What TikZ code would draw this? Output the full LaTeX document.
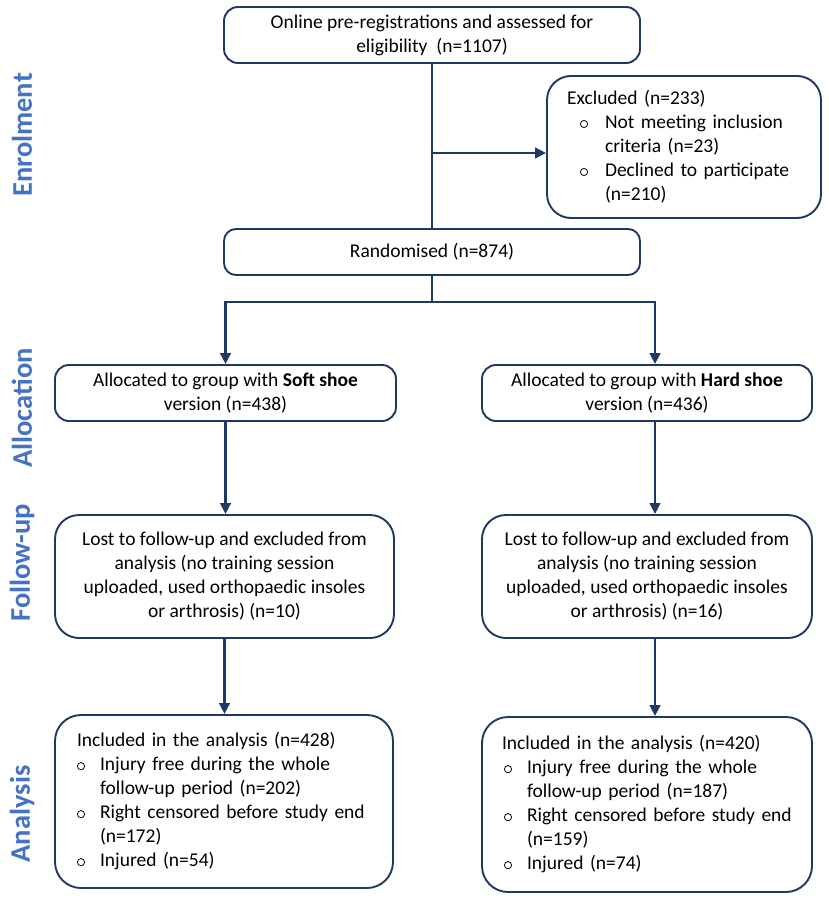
\documentclass[tikz,border=0pt]{standalone}
\usepackage{fontspec}
\setmainfont{Carlito}
\usetikzlibrary{arrows.meta,calc}
\definecolor{navy}{RGB}{32,56,100}
\definecolor{lblue}{RGB}{68,114,196}
\newcommand\obul{\tikz[baseline=-4.8pt]\draw[line width=0.8pt,black] (0,0) circle (3.6pt);}
\begin{document}
\begin{tikzpicture}[x=1pt,y=-1pt,
 box/.style={draw=navy,line width=1.9pt,rounded corners=14pt,fill=white,font=\fontsize{19.5}{24}\selectfont,align=center,inner sep=0pt},
 lbox/.style={box,align=left},
 conn/.style={draw=navy,line width=2.6pt},
 arr/.style={conn,-{Triangle[length=11pt,width=10.5pt]}},
 phase/.style={text=lblue,font=\fontsize{28.5}{30}\selectfont\bfseries,rotate=90}]
\fill[white] (0,0) rectangle (829,899);
\useasboundingbox (0,0) rectangle (829,899);

\node[box,minimum width=416,minimum height=56] (top) at (432,35)
 {Online pre-registrations and assessed for\\eligibility\ \ (n=1107)};
\node[lbox,rounded corners=24pt,text width=234,inner xsep=20,minimum height=142] (excl) at (684,147)
 {Excluded (n=233)\\
 \hspace*{13pt}\makebox[25pt][l]{\obul}Not meeting inclusion\\
 \hspace*{38pt}criteria (n=23)\\
 \hspace*{13pt}\makebox[25pt][l]{\obul}Declined to participate\\
 \hspace*{38pt}(n=210)};
\node[box,rounded corners=12pt,minimum width=416,minimum height=46] (rand) at (432,252) {Randomised (n=874)};

\node[box,minimum width=341,minimum height=56] (soft) at (225.5,393)
 {Allocated to group with \textbf{Soft shoe}\\version (n=438)};
\node[box,minimum width=330,minimum height=56] (hard) at (647,393)
 {Allocated to group with \textbf{Hard shoe}\\version (n=436)};

\node[box,rounded corners=24pt,minimum width=339,minimum height=123] (fol1) at (224.5,576.5)
 {Lost to follow-up and excluded from\\analysis (no training session\\uploaded, used orthopaedic insoles\\or arthrosis) (n=10)};
\node[box,rounded corners=24pt,minimum width=330,minimum height=123] (fol2) at (647,576.5)
 {Lost to follow-up and excluded from\\analysis (no training session\\uploaded, used orthopaedic insoles\\or arthrosis) (n=16)};

\node[lbox,rounded corners=26pt,text width=294,inner xsep=22,minimum height=173] (ana1) at (224,801.5)
 {Included in the analysis (n=428)\\
 \makebox[23pt][l]{\obul}Injury free during the whole\\
 \hspace*{23pt}follow-up period (n=202)\\
 \makebox[23pt][l]{\obul}Right censored before study end\\
 \hspace*{23pt}(n=172)\\
 \makebox[23pt][l]{\obul}Injured (n=54)};
\node[lbox,rounded corners=26pt,text width=290,inner xsep=20,minimum height=175] (ana2) at (647,804.5)
 {Included in the analysis (n=420)\\
 \hspace*{2pt}\makebox[23pt][l]{\obul}Injury free during the whole\\
 \hspace*{25pt}follow-up period (n=187)\\
 \hspace*{2pt}\makebox[23pt][l]{\obul}Right censored before study end\\
 \hspace*{25pt}(n=159)\\
 \hspace*{2pt}\makebox[23pt][l]{\obul}Injured (n=74)};

\node[phase] (p1) at (22,135) {Enrolment};
\node[phase] (p2) at (22,408) {Allocation};
\node[phase] (p3) at (22,563) {Follow-up};
\node[phase] (p4) at (22,814) {Analysis};

\coordinate (hx) at (655,0);
\coordinate (j1) at (432,153);
\coordinate (j2) at (432,302);
\draw[conn] (top.south) -- (rand.north);
\draw[arr] (j1) -- (j1 -| excl.west);
\draw[conn] (rand.south) -- (j2);
\draw[arr] (j2) -| (soft.north);
\draw[arr] (j2) -| (hard.north -| hx);
\draw[arr] (soft.south) -- (soft.south |- fol1.north);
\draw[arr] (hard.south -| hx) -- (fol2.north -| hx);
\draw[arr] (fol1.south) -- (fol1.south |- ana1.north);
\draw[arr] (fol2.south -| hx) -- (ana2.north -| hx);
\end{tikzpicture}
\end{document}
